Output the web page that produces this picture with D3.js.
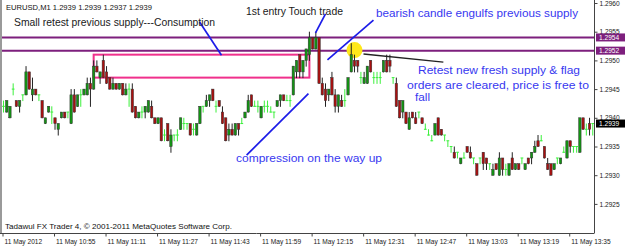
<!DOCTYPE html>
<html lang="en">
<head>
<meta charset="utf-8">
<title>EURUSD M1</title>
<script src="https://d3js.org/d3.v7.min.js"></script>
<style>
    body{margin:0;background:#fff;}
    svg{display:block;font-family:"Liberation Sans",Arial,sans-serif;}
</style>
</head>
<body>
<svg width="625" height="247"></svg>
<script>
    // EURUSD M1, 11 May 2012 10:39 .. 13:42, one bar per minute
    var open = [
        1.2942,1.2941,1.2940,1.2945,1.2943,1.2942,1.2944,1.2944,1.2948,1.2944,
        1.2945,1.2944,1.2943,1.2939,1.2941,1.2941,1.2940,1.2938,1.2940,1.2941,
        1.2941,1.2939,1.2944,1.2942,1.2944,1.2944,1.2944,1.2946,1.2945,1.2949,
        1.2947,1.2950,1.2948,1.2947,1.2945,1.2946,1.2945,1.2946,1.2944,1.2945,
        1.2945,1.2942,1.2940,1.2941,1.2941,1.2941,1.2942,1.2940,1.2939,1.2940,
        1.2937,1.2939,1.2935,1.2937,1.2937,1.2938,1.2939,1.2939,1.2939,1.2938,
        1.2937,1.2939,1.2942,1.2942,1.2943,1.2945,1.2942,1.2943,1.2941,1.2940,
        1.2937,1.2938,1.2937,1.2939,1.2939,1.2940,1.2941,1.2944,1.2942,1.2942,
        1.2940,1.2942,1.2942,1.2941,1.2941,1.2942,1.2943,1.2944,1.2943,1.2943,
        1.2944,1.2948,1.2951,1.2948,1.2950,1.2951,1.2954,1.2952,1.2954,1.2946,
        1.2945,1.2944,1.2947,1.2944,1.2942,1.2943,1.2943,1.2944,1.2948,1.2950,
        1.2950,1.2947,1.2946,1.2946,1.2950,1.2947,1.2947,1.2947,1.2948,1.2950,
        1.2950,1.2947,1.2946,1.2943,1.2941,1.2941,1.2938,1.2941,1.2940,1.2941,
        1.2940,1.2938,1.2937,1.2936,1.2937,1.2940,1.2938,1.2937,1.2936,1.2935,
        1.2934,1.2934,1.2932,1.2933,1.2935,1.2934,1.2933,1.2932,1.2933,1.2934,
        1.2933,1.2932,1.2930,1.2932,1.2930,1.2933,1.2931,1.2930,1.2933,1.2931,
        1.2932,1.2933,1.2931,1.2933,1.2933,1.2934,1.2936,1.2936,1.2935,1.2932,
        1.2932,1.2931,1.2933,1.2932,1.2934,1.2933,1.2936,1.2935,1.2935,1.2934,
        1.2940,1.2938,1.2939,1.2939
    ];
    var high = [
        1.2943,1.2943,1.2942,1.2946,1.2943,1.2943,1.2944,1.2949,1.2948,1.2947,
        1.2945,1.2944,1.2943,1.2940,1.2942,1.2942,1.2940,1.2939,1.2941,1.2941,
        1.2941,1.2945,1.2945,1.2944,1.2945,1.2945,1.2947,1.2947,1.2950,1.2950,
        1.2948,1.2951,1.2949,1.2947,1.2947,1.2946,1.2946,1.2946,1.2946,1.2946,
        1.2946,1.2942,1.2941,1.2942,1.2942,1.2943,1.2943,1.2940,1.2940,1.2940,
        1.2938,1.2939,1.2938,1.2937,1.2938,1.2940,1.2940,1.2939,1.2939,1.2939,
        1.2939,1.2942,1.2942,1.2944,1.2944,1.2945,1.2943,1.2943,1.2942,1.2940,
        1.2939,1.2939,1.2939,1.2939,1.2940,1.2941,1.2944,1.2944,1.2943,1.2943,
        1.2942,1.2943,1.2943,1.2942,1.2941,1.2943,1.2944,1.2944,1.2944,1.2944,
        1.2949,1.2950,1.2951,1.2950,1.2952,1.2955,1.2954,1.2955,1.2954,1.2947,
        1.2946,1.2945,1.2948,1.2945,1.2944,1.2944,1.2945,1.2947,1.2953,1.2951,
        1.2950,1.2948,1.2948,1.2949,1.2950,1.2948,1.2948,1.2948,1.2950,1.2951,
        1.2951,1.2947,1.2947,1.2943,1.2943,1.2941,1.2941,1.2941,1.2941,1.2941,
        1.2940,1.2939,1.2938,1.2937,1.2939,1.2940,1.2938,1.2937,1.2936,1.2935,
        1.2935,1.2934,1.2933,1.2934,1.2935,1.2935,1.2933,1.2932,1.2933,1.2934,
        1.2933,1.2932,1.2932,1.2932,1.2934,1.2933,1.2932,1.2932,1.2934,1.2932,
        1.2932,1.2933,1.2932,1.2933,1.2934,1.2936,1.2937,1.2937,1.2935,1.2933,
        1.2932,1.2932,1.2933,1.2933,1.2935,1.2936,1.2936,1.2935,1.2935,1.2940,
        1.2940,1.2939,1.2940,1.2939
    ];
    var low = [
        1.2941,1.2941,1.2940,1.2944,1.2942,1.2941,1.2943,1.2944,1.2945,1.2943,
        1.2944,1.2943,1.2940,1.2939,1.2941,1.2939,1.2938,1.2937,1.2940,1.2940,
        1.2940,1.2939,1.2941,1.2942,1.2942,1.2944,1.2944,1.2942,1.2945,1.2948,
        1.2946,1.2947,1.2946,1.2945,1.2945,1.2945,1.2945,1.2944,1.2944,1.2942,
        1.2941,1.2940,1.2940,1.2940,1.2940,1.2941,1.2940,1.2939,1.2939,1.2936,
        1.2936,1.2936,1.2934,1.2936,1.2936,1.2938,1.2938,1.2938,1.2937,1.2937,
        1.2937,1.2939,1.2941,1.2942,1.2942,1.2943,1.2941,1.2942,1.2939,1.2936,
        1.2936,1.2937,1.2937,1.2937,1.2939,1.2940,1.2941,1.2942,1.2942,1.2941,
        1.2940,1.2941,1.2941,1.2941,1.2940,1.2942,1.2942,1.2943,1.2943,1.2942,
        1.2944,1.2947,1.2947,1.2947,1.2949,1.2950,1.2952,1.2952,1.2946,1.2944,
        1.2942,1.2943,1.2944,1.2941,1.2941,1.2942,1.2942,1.2944,1.2948,1.2948,
        1.2948,1.2946,1.2946,1.2946,1.2948,1.2946,1.2946,1.2946,1.2948,1.2948,
        1.2948,1.2946,1.2942,1.2940,1.2940,1.2939,1.2938,1.2940,1.2939,1.2940,
        1.2939,1.2938,1.2937,1.2936,1.2937,1.2937,1.2937,1.2936,1.2935,1.2934,
        1.2933,1.2933,1.2932,1.2933,1.2934,1.2933,1.2932,1.2930,1.2932,1.2931,
        1.2931,1.2931,1.2930,1.2931,1.2930,1.2930,1.2930,1.2930,1.2931,1.2931,
        1.2931,1.2932,1.2931,1.2932,1.2932,1.2934,1.2935,1.2936,1.2933,1.2931,
        1.2930,1.2931,1.2932,1.2932,1.2934,1.2933,1.2934,1.2934,1.2934,1.2934,
        1.2938,1.2937,1.2937,1.2937
    ];
    var close = [
        1.2942,1.2943,1.2942,1.2945,1.2942,1.2943,1.2944,1.2948,1.2945,1.2945,
        1.2944,1.2944,1.2940,1.2940,1.2942,1.2941,1.2939,1.2939,1.2941,1.2940,
        1.2941,1.2944,1.2941,1.2944,1.2944,1.2945,1.2946,1.2945,1.2949,1.2948,
        1.2948,1.2947,1.2946,1.2945,1.2946,1.2945,1.2946,1.2944,1.2945,1.2945,
        1.2941,1.2940,1.2941,1.2941,1.2942,1.2943,1.2940,1.2939,1.2940,1.2936,
        1.2937,1.2936,1.2937,1.2937,1.2937,1.2940,1.2939,1.2939,1.2937,1.2938,
        1.2939,1.2942,1.2942,1.2943,1.2944,1.2943,1.2942,1.2942,1.2939,1.2936,
        1.2938,1.2937,1.2939,1.2938,1.2939,1.2941,1.2943,1.2942,1.2942,1.2942,
        1.2942,1.2942,1.2942,1.2941,1.2941,1.2943,1.2944,1.2943,1.2943,1.2943,
        1.2949,1.2950,1.2948,1.2950,1.2952,1.2954,1.2952,1.2954,1.2946,1.2944,
        1.2943,1.2945,1.2944,1.2942,1.2944,1.2942,1.2943,1.2947,1.2951,1.2949,
        1.2949,1.2947,1.2947,1.2949,1.2948,1.2947,1.2947,1.2947,1.2950,1.2948,
        1.2949,1.2947,1.2942,1.2940,1.2943,1.2939,1.2940,1.2940,1.2939,1.2941,
        1.2939,1.2938,1.2937,1.2936,1.2939,1.2937,1.2937,1.2937,1.2936,1.2935,
        1.2933,1.2934,1.2933,1.2933,1.2934,1.2933,1.2933,1.2930,1.2933,1.2932,
        1.2932,1.2932,1.2931,1.2931,1.2933,1.2931,1.2931,1.2932,1.2931,1.2932,
        1.2931,1.2933,1.2932,1.2932,1.2934,1.2935,1.2935,1.2936,1.2933,1.2931,
        1.2930,1.2932,1.2933,1.2933,1.2934,1.2936,1.2935,1.2935,1.2935,1.2940,
        1.2938,1.2938,1.2938,1.2939
    ];

    var tickBars = [0,16,32,48,64,80,96,112,128,144,160,176];
    var tickLabels = ["11 May 2012","11 May 10:55","11 May 11:11","11 May 11:27","11 May 11:43","11 May 11:59",
                      "11 May 12:15","11 May 12:31","11 May 12:47","11 May 13:03","11 May 13:19","11 May 13:35"];
    var priceTicks = [1.2960,1.2955,1.2950,1.2945,1.2940,1.2935,1.2930,1.2925];
    var levels = [1.2954,1.29517];          // purple horizontal lines
    var lastPrice = 1.2939;
    var header = "EURUSD,M1  1.2939 1.2939 1.2937 1.2939";
    var footer = "Tadawul FX Trader 4, \u00a9 2001-2011 MetaQuotes Software Corp.";

    // annotations in chart coordinates: [bar1, price1, bar2, price2]
    var supplyBox = [28, 1.2951, 95, 1.2947];
    var blueLines = [
        [60.9,1.29567, 67.7,1.29509],
        [100.0,1.29581, 96.9,1.29548],
        [114.9,1.29570, 100.6,1.29501],
        [75.5,1.29335, 94.7,1.29442]
    ];
    var flagLine = [111.8,1.29511, 136.6,1.29497];
    var touchDot = [109, 1.29518];

    var svg = d3.select("svg");
    var plotR = 594, plotB = 233;

    var x = d3.scaleLinear().domain([0,183]).range([3.5, 3.5+3.22*183]);
    var y = d3.scaleLinear().domain([1.2925,1.2960]).range([203.9,3]);

    svg.append("defs").append("clipPath").attr("id","plot")
        .append("rect").attr("x",2).attr("y",0).attr("width",plotR-2).attr("height",plotB);

    var g = svg.append("g").attr("clip-path","url(#plot)");

    // resistance levels
    g.selectAll(".lvl").data(levels).enter().append("line")
        .attr("x1",2).attr("x2",plotR)
        .attr("y1",function(d){return y(d);}).attr("y2",function(d){return y(d);})
        .attr("stroke","#7d1f7d").attr("stroke-width",2);

    // supply rectangle
    g.append("rect")
        .attr("x",x(supplyBox[0])).attr("y",y(supplyBox[1]))
        .attr("width",x(supplyBox[2])-x(supplyBox[0]))
        .attr("height",y(supplyBox[3])-y(supplyBox[1]))
        .attr("fill","none").attr("stroke","#f0308c").attr("stroke-width",2);

    g.append("circle")
        .attr("cx",x(touchDot[0])).attr("cy",y(touchDot[1])).attr("r",8)
        .attr("fill","#ffe81a");

    var idx = d3.range(open.length);
    var isDoji = function(i){return open[i]===close[i];};

    // wicks
    g.selectAll(".wick").data(idx).enter().append("line")
        .attr("x1",function(i){return x(i);}).attr("x2",function(i){return x(i);})
        .attr("y1",function(i){return y(high[i]);})
        .attr("y2",function(i){return y(low[i])+0.5;})
        .attr("stroke",function(i){return isDoji(i)?"#3cf03c":"#222";})
        .attr("stroke-width",1);

    // bodies
    g.selectAll(".body").data(idx.filter(function(i){return !isDoji(i);})).enter().append("rect")
        .attr("x",function(i){return x(i)-1.2;})
        .attr("y",function(i){return y(Math.max(open[i],close[i]));})
        .attr("width",2.4)
        .attr("height",function(i){return Math.abs(y(open[i])-y(close[i]));})
        .attr("fill",function(i){return close[i]>open[i]?"#139413":"#a81010";})
        .attr("stroke","#333").attr("stroke-width",0.5);

    // doji ticks
    g.selectAll(".doji").data(idx.filter(isDoji)).enter().append("line")
        .attr("x1",function(i){return x(i)-1.4;}).attr("x2",function(i){return x(i)+1.4;})
        .attr("y1",function(i){return y(open[i]);}).attr("y2",function(i){return y(open[i]);})
        .attr("stroke","#3cf03c").attr("stroke-width",1);

    // hand-drawn annotation lines
    g.selectAll(".arrow").data(blueLines).enter().append("line")
        .attr("x1",function(d){return x(d[0]);}).attr("y1",function(d){return y(d[1]);})
        .attr("x2",function(d){return x(d[2]);}).attr("y2",function(d){return y(d[3]);})
        .attr("stroke","#1c1ce8").attr("stroke-width",1.7);

    g.append("line")
        .attr("x1",x(flagLine[0])).attr("y1",y(flagLine[1]))
        .attr("x2",x(flagLine[2])).attr("y2",y(flagLine[3]))
        .attr("stroke","#222").attr("stroke-width",1.5);

    // frame
    svg.append("line").attr("x1",1).attr("x2",1).attr("y1",0).attr("y2",plotB)
        .attr("stroke","#9a9a9a").attr("stroke-width",2);
    svg.append("line").attr("x1",0).attr("x2",plotR).attr("y1",plotB+0.5).attr("y2",plotB+0.5)
        .attr("stroke","#444");
    svg.append("line").attr("x1",plotR+0.5).attr("x2",plotR+0.5).attr("y1",0).attr("y2",plotB+0.5)
        .attr("stroke","#444");

    // axes
    var yAxis = d3.axisRight(y).tickValues(priceTicks).tickSize(3).tickPadding(2)
        .tickFormat(d3.format(".4f"));
    var ya = svg.append("g").attr("transform","translate("+(plotR+0.5)+",0)").call(yAxis);
    ya.select(".domain").remove();
    ya.selectAll("line").attr("stroke","#444");
    ya.selectAll("text").attr("font-size","6.6px").attr("fill","#222")
        .attr("font-family","'Liberation Sans',Arial,sans-serif");

    var xAxis = d3.axisBottom(x).tickValues(tickBars).tickSize(3).tickPadding(3)
        .tickFormat(function(d,i){return tickLabels[i];});
    var xa = svg.append("g").attr("transform","translate(-1,"+(plotB+0.5)+")").call(xAxis);
    xa.select(".domain").remove();
    xa.selectAll("line").attr("stroke","#444");
    xa.selectAll("text").attr("font-size","6.6px").attr("fill","#222")
        .attr("text-anchor","start").attr("x",1.5)
        .attr("font-family","'Liberation Sans',Arial,sans-serif");

    // price labels on axis
    var boxes = levels.map(function(v){return {v:v,bg:"#7d1f7d"};});
    boxes.push({v:lastPrice,bg:"#000"});
    var pb = svg.selectAll(".pbox").data(boxes).enter().append("g");
    pb.append("rect").attr("x",plotR+2).attr("width",31)
        .attr("y",function(d){return y(d.v)-4;}).attr("height",8)
        .attr("fill",function(d){return d.bg;});
    pb.append("text").attr("x",plotR+5).attr("y",function(d){return y(d.v)+2.5;})
        .attr("font-size","6.6px").attr("fill","#fff")
        .text(function(d){return d3.format(".4f")(d.v);});

    // texts
    function label(t, tx, ty, size, len, color){
        svg.append("text").attr("x",tx).attr("y",ty)
            .attr("font-size",size+"px").attr("fill",color)
            .attr("textLength",len).attr("lengthAdjust","spacingAndGlyphs")
            .text(t);
    }
    label(header, 6, 10, 7.4, 146, "#111");
    label("Small retest previous supply---Consumption", 14, 26, 10.6, 201, "#1a1a1a");
    label("1st entry Touch trade", 246, 14.5, 10.6, 97, "#1a1a1a");
    var blue = "#3838f0";
    label("bearish candle engulfs previous supply", 376, 17, 11, 202, blue);
    label("Retest new fresh supply & flag", 418, 74, 11, 162, blue);
    label("orders are cleared, price is free to", 407, 88.5, 11, 182, blue);
    label("fall", 415, 101, 11, 15, blue);
    label("compression on the way up", 236, 161.5, 11, 146, blue);
    label(footer, 5, 229, 7.4, 227, "#111");
</script>
</body>
</html>
